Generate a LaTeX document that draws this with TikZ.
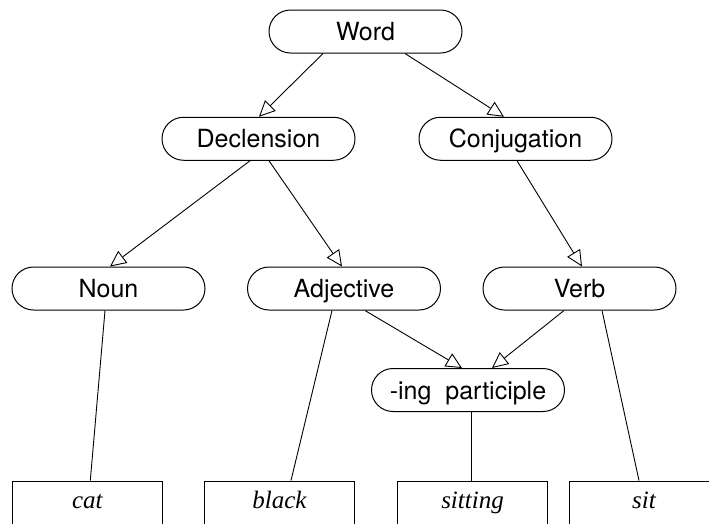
\documentclass[tikz,border=0pt]{standalone}
\usepackage{fontspec}
\setmainfont{Liberation Serif}
\newfontfamily\heros{TeX Gyre Heros}
\usetikzlibrary{arrows.meta}
\tikzset{
  cls/.style={draw, line width=1pt, rounded corners=21.5pt, minimum width=193pt, minimum height=43pt,
    inner sep=0pt, font=\heros\fontsize{25}{30}\selectfont, text height=18pt, text depth=0pt},
  leaf/.style={draw, line width=1pt, minimum width=150pt, minimum height=54pt, inner sep=0pt,
    font=\itshape\fontsize{25}{30}\selectfont, text height=10pt, text depth=10pt},
  isa/.style={line width=0.9pt, -{Triangle[open, length=16pt, width=15pt, line width=0.9pt]}},
  link/.style={line width=0.9pt}
}
\begin{document}
\begin{tikzpicture}[x=1pt, y=-1pt]
\clip (0,0) rectangle (709,523);
\fill[white] (0,0) rectangle (709,523);
\node[cls] (word) at (365.5,31.5) {Word};
\node[cls] (decl) at (258.5,138.75) {Declension};
\node[cls] (conj) at (515.5,138.75) {Conjugation};
\node[cls] (noun) at (108.5,288.5) {Noun};
\node[cls] (adj) at (344,288.5) {Adjective};
\node[cls] (verb) at (579.5,288.5) {Verb};
\node[cls] (ing) at (468,390) {-ing\ \ participle};
\node[leaf] (cat) at (87.3,508) {cat};
\node[leaf] (black) at (279.5,508) {black};
\node[leaf] (sitting) at (472.5,508) {sitting};
\node[leaf] (sit) at (644,508) {sit};
\draw[isa] ([xshift=-42.5pt]word.south) -- ([xshift=0.5pt]decl.north);
\draw[isa] ([xshift=39.5pt]word.south) -- ([xshift=-11.5pt]conj.north);
\draw[isa] ([xshift=-8.5pt]decl.south) -- ([xshift=1.5pt]noun.north);
\draw[isa] ([xshift=10.5pt]decl.south) -- ([xshift=-2pt]adj.north);
\draw[isa] ([xshift=1.5pt]conj.south) -- ([xshift=2.5pt]verb.north);
\draw[isa] ([xshift=21pt]adj.south) -- ([xshift=-6pt]ing.north);
\draw[isa] ([xshift=-15.5pt]verb.south) -- ([xshift=24pt]ing.north);
\draw[link] ([xshift=-3.5pt]noun.south) -- ([xshift=3pt]cat.north);
\draw[link] ([xshift=-12pt]adj.south) -- ([xshift=11.5pt]black.north);
\draw[link] ([xshift=3pt]ing.south) -- ([xshift=-1.5pt]sitting.north);
\draw[link] ([xshift=22.5pt]verb.south) -- ([xshift=-5pt]sit.north);
\end{tikzpicture}
\end{document}
